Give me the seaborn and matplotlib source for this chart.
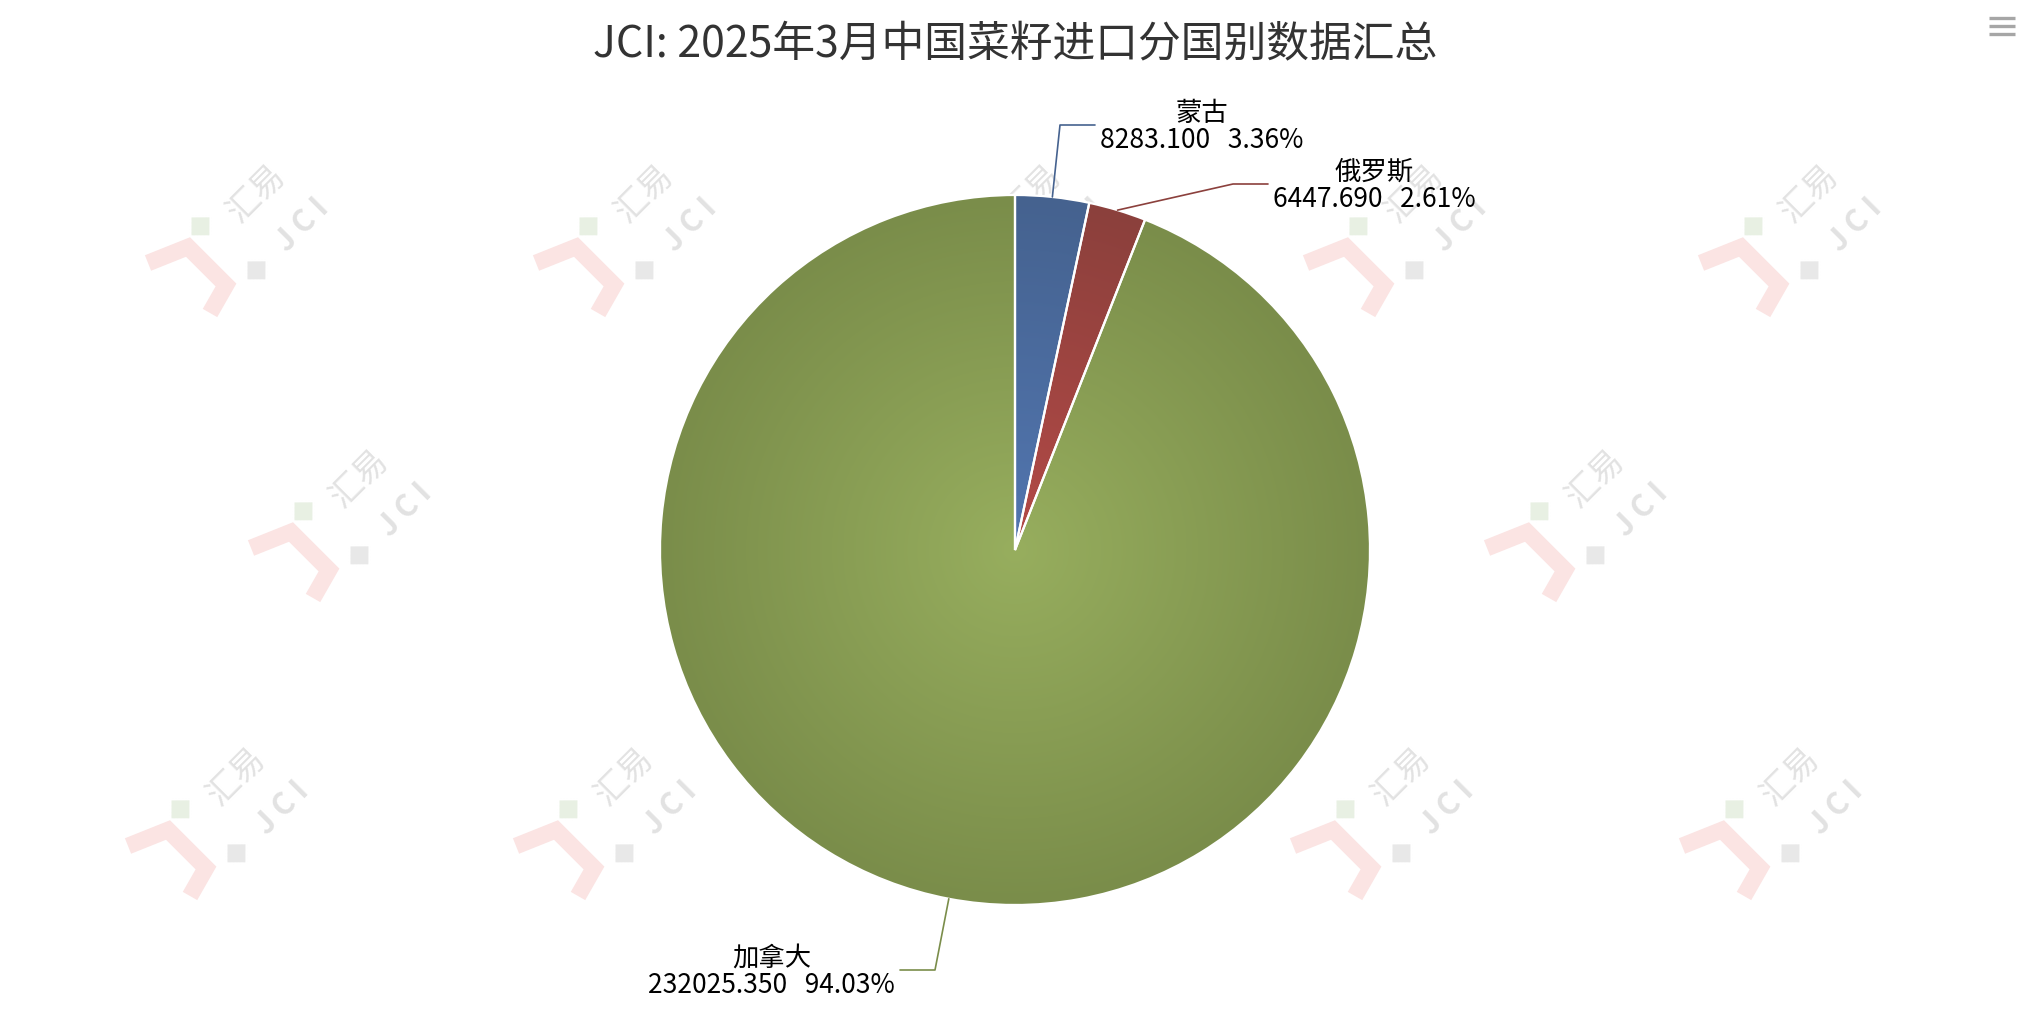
import numpy as np
import matplotlib
matplotlib.use("Agg")
import matplotlib.pyplot as plt
import seaborn as sns

#%% dados
paises = ['蒙古', '俄罗斯', '加拿大']
volumes = [8283.100, 6447.690, 232025.350]
cor_centro = ['#5276b0', '#b44a47', '#97ae5e']
cor_borda = ['#45628f', '#8b403c', '#7a8d4a']
titulo = 'JCI: 2025年3月中国菜籽进口分国别数据汇总'

#%% layout (pixels, origem no topo)
W, H = 2030, 1026
cx, cy, R = 1015, 550, 355
# cotovelo das linhas de chamada e lado do rótulo
cotovelos = [(1060, 125, 1), (1233, 184, 1), (935, 970, -1)]
marcas = [(240, 233), (628, 233), (1016, 233), (1398, 233), (1793, 233),
          (343, 518), (1579, 518),
          (220, 816), (608, 816), (997, 816), (1385, 816), (1774, 816)]

sns.set_theme(style='white')
plt.rcParams['font.family'] = ['Noto Sans CJK SC', 'DejaVu Sans']

fig = plt.figure(figsize=(W / 100, H / 100), dpi=100)
ax = fig.add_axes([0, 0, 1, 1])


def yy(y):
    return H - y


#%% marca d'agua
for mx, my in marcas:
    pts = np.array([(-92, 30), (-52, 14), (-14, 52), (-30, 80)])
    ax.plot(mx + pts[:, 0], yy(my + pts[:, 1]), color='#fbe4e3', lw=12,
            solid_capstyle='butt', solid_joinstyle='miter', zorder=0)
    ax.text(mx - 40, yy(my - 8), '◆', color='#e8f0e3', fontsize=24, rotation=45,
            ha='center', va='center', family=['DejaVu Sans'], zorder=0)
    ax.text(mx + 16, yy(my + 36), '◆', color='#e8e8e8', fontsize=24, rotation=45,
            ha='center', va='center', family=['DejaVu Sans'], zorder=0)
    ax.text(mx + 16, yy(my - 40), '汇易', color='#e2e2e2', fontsize=24, rotation=45,
            ha='center', va='center', zorder=0)
    ax.text(mx + 62, yy(my - 8), 'J C I', color='#e2e2e2', fontsize=22, rotation=45,
            ha='center', va='center', fontweight='bold', zorder=0)

#%% pizza
fatias, _ = ax.pie(volumes, startangle=90, counterclock=False, center=(cx, yy(cy)),
                   radius=R, wedgeprops=dict(edgecolor='white', linewidth=1.6),
                   colors=['none'] * 3)

gx = np.linspace(-1, 1, 800)
gxx, gyy = np.meshgrid(gx, gx)
dist = np.clip(np.sqrt(gxx ** 2 + gyy ** 2), 0, 1)
for f, c0, c1 in zip(fatias, cor_centro, cor_borda):
    f.set_zorder(3)
    cmap = sns.blend_palette([c0, c1], n_colors=256, as_cmap=True)
    im = ax.imshow(dist, cmap=cmap, vmin=0, vmax=1, origin='lower',
                   extent=[cx - R, cx + R, yy(cy) - R, yy(cy) + R], zorder=2,
                   interpolation='bilinear')
    im.set_clip_path(f)

#%% rótulos
total = sum(volumes)
for i, (f, nome, v, (ex, ey, lado)) in enumerate(zip(fatias, paises, volumes, cotovelos)):
    ang = np.deg2rad((f.theta1 + f.theta2) / 2)
    x0, y0 = cx + R * np.cos(ang), yy(cy) + R * np.sin(ang)
    x2 = ex + 35 * lado
    ax.plot([x0, ex, x2], [y0, yy(ey), yy(ey)], color=cor_borda[i], lw=1.2, zorder=4)
    ax.text(x2 + 5 * lado, yy(ey + 2), f'{nome}\n{v:.3f}   {100 * v / total:.2f}%',
            ha='left' if lado > 0 else 'right', va='center', multialignment='center',
            fontsize=19, color='black', linespacing=1.0, zorder=5)

ax.text(W / 2, yy(45), titulo, ha='center', va='center', fontsize=30.8, color='#333333')

# icone de menu
for y in (18, 26, 34):
    ax.plot([1989, 2015], [yy(y), yy(y)], color='#a6a6a6', lw=2.4, solid_capstyle='butt')

ax.set_xlim(0, W)
ax.set_ylim(0, H)
ax.set_aspect('auto')
ax.axis('off')
fig.savefig('out.png', dpi=100, facecolor='white')
